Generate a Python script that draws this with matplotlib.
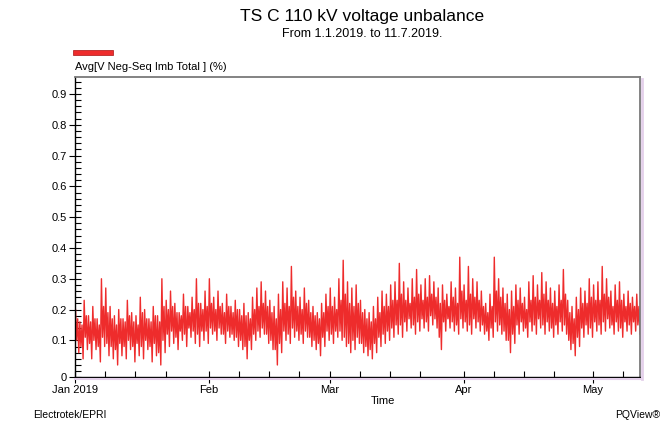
import numpy as np
import matplotlib
matplotlib.use('Agg')
import matplotlib.pyplot as plt
import matplotlib.dates as mdates
from matplotlib.ticker import FixedLocator, MultipleLocator
from matplotlib.patches import Rectangle
from matplotlib.lines import Line2D

title = 'TS C 110 kV voltage unbalance'
subtitle = 'From 1.1.2019. to 11.7.2019.'
series_label = 'Avg[V Neg-Seq Imb Total ] (%)'
x_label = 'Time'
month_labels = ['Jan 2019', 'Feb', 'Mar', 'Apr', 'May']
month_starts = ['2019-01-01', '2019-02-01', '2019-03-01', '2019-04-01', '2019-05-01']
y_tick_values = [0.1, 0.2, 0.3, 0.4, 0.5, 0.6, 0.7, 0.8, 0.9]
start_day = '2019-01-01'
end_time = '2019-05-11T21:00'

# daily spikes (hi / lo) and the dense core (mid_hi / mid_lo) of the unbalance (%),
# read off the picture
jan_hi = [0.20, 0.16, 0.23, 0.18, 0.21, 0.17, 0.30, 0.27, 0.21, 0.18, 0.20, 0.17, 0.23, 0.19, 0.18, 0.24,
          0.20, 0.17, 0.21, 0.18, 0.30, 0.23, 0.26, 0.22, 0.19, 0.25, 0.21, 0.24, 0.30, 0.22, 0.26]
jan_lo = [0.06, 0.04, 0.07, 0.04, 0.07, 0.03, 0.08, 0.05, 0.04, 0.02, 0.05, 0.04, 0.07, 0.03, 0.05, 0.04,
          0.07, 0.03, 0.05, 0.02, 0.06, 0.08, 0.09, 0.07, 0.10, 0.08, 0.11, 0.09, 0.08, 0.10, 0.09]
jan_mid_hi = [0.17, 0.15, 0.18, 0.16, 0.17, 0.15, 0.21, 0.19, 0.17, 0.15, 0.17, 0.16, 0.18, 0.16, 0.15, 0.19,
              0.17, 0.16, 0.18, 0.16, 0.21, 0.20, 0.21, 0.19, 0.18, 0.21, 0.19, 0.20, 0.22, 0.20, 0.21]
jan_mid_lo = [0.10, 0.08, 0.11, 0.09, 0.10, 0.08, 0.11, 0.09, 0.08, 0.07, 0.09, 0.08, 0.10, 0.08, 0.09, 0.08,
              0.10, 0.08, 0.09, 0.06, 0.10, 0.12, 0.13, 0.11, 0.13, 0.12, 0.14, 0.13, 0.12, 0.13, 0.13]

feb_hi = [0.30, 0.24, 0.26, 0.22, 0.25, 0.21, 0.23, 0.20, 0.22, 0.19, 0.24, 0.27, 0.29, 0.26,
          0.23, 0.21, 0.25, 0.29, 0.27, 0.34, 0.26, 0.24, 0.27, 0.23, 0.21, 0.19, 0.22, 0.25]
feb_lo = [0.12, 0.10, 0.12, 0.09, 0.11, 0.10, 0.08, 0.07, 0.04, 0.07, 0.10, 0.11, 0.12, 0.09,
          0.07, 0.02, 0.06, 0.10, 0.09, 0.11, 0.10, 0.09, 0.11, 0.08, 0.07, 0.05, 0.08, 0.10]
feb_mid_hi = [0.22, 0.20, 0.21, 0.19, 0.21, 0.19, 0.20, 0.18, 0.18, 0.17, 0.20, 0.21, 0.22, 0.21,
              0.19, 0.17, 0.20, 0.22, 0.21, 0.24, 0.21, 0.20, 0.22, 0.19, 0.18, 0.17, 0.19, 0.21]
feb_mid_lo = [0.14, 0.13, 0.14, 0.12, 0.13, 0.12, 0.11, 0.10, 0.08, 0.10, 0.12, 0.13, 0.14, 0.12,
              0.10, 0.07, 0.09, 0.13, 0.12, 0.14, 0.13, 0.12, 0.13, 0.11, 0.10, 0.09, 0.11, 0.13]

mar_hi = [0.27, 0.24, 0.30, 0.36, 0.29, 0.27, 0.28, 0.23, 0.20, 0.19, 0.21, 0.24, 0.26, 0.25, 0.28, 0.29,
          0.35, 0.29, 0.27, 0.30, 0.33, 0.28, 0.30, 0.31, 0.29, 0.27, 0.28, 0.25, 0.29, 0.27, 0.37]
mar_lo = [0.09, 0.11, 0.10, 0.08, 0.06, 0.07, 0.09, 0.06, 0.05, 0.04, 0.06, 0.08, 0.09, 0.10, 0.11, 0.12,
          0.11, 0.13, 0.14, 0.12, 0.13, 0.14, 0.13, 0.15, 0.14, 0.07, 0.13, 0.14, 0.13, 0.12, 0.14]
mar_mid_hi = [0.21, 0.20, 0.23, 0.25, 0.22, 0.21, 0.22, 0.19, 0.17, 0.16, 0.17, 0.19, 0.21, 0.21, 0.23, 0.23,
              0.25, 0.23, 0.22, 0.24, 0.25, 0.23, 0.24, 0.25, 0.24, 0.22, 0.23, 0.21, 0.24, 0.22, 0.26]
mar_mid_lo = [0.12, 0.13, 0.13, 0.11, 0.09, 0.10, 0.11, 0.09, 0.08, 0.07, 0.09, 0.11, 0.12, 0.13, 0.14, 0.15,
              0.15, 0.16, 0.17, 0.15, 0.16, 0.17, 0.16, 0.18, 0.17, 0.11, 0.16, 0.17, 0.16, 0.15, 0.17]

apr_hi = [0.28, 0.34, 0.30, 0.29, 0.26, 0.22, 0.25, 0.37, 0.30, 0.27, 0.25, 0.26, 0.28, 0.27, 0.24,
          0.29, 0.31, 0.28, 0.32, 0.29, 0.27, 0.26, 0.28, 0.33, 0.23, 0.21, 0.24, 0.27, 0.26, 0.30]
apr_lo = [0.13, 0.12, 0.14, 0.13, 0.12, 0.10, 0.11, 0.13, 0.12, 0.10, 0.06, 0.09, 0.12, 0.13, 0.11,
          0.13, 0.12, 0.14, 0.12, 0.13, 0.11, 0.12, 0.13, 0.12, 0.07, 0.05, 0.08, 0.11, 0.12, 0.11]
apr_mid_hi = [0.23, 0.25, 0.24, 0.23, 0.21, 0.19, 0.21, 0.26, 0.24, 0.22, 0.20, 0.21, 0.23, 0.22, 0.20,
              0.23, 0.24, 0.23, 0.25, 0.23, 0.22, 0.21, 0.23, 0.25, 0.19, 0.17, 0.20, 0.22, 0.22, 0.24]
apr_mid_lo = [0.16, 0.15, 0.17, 0.16, 0.15, 0.13, 0.14, 0.16, 0.15, 0.13, 0.10, 0.12, 0.15, 0.16, 0.14,
              0.16, 0.15, 0.17, 0.15, 0.16, 0.14, 0.15, 0.16, 0.15, 0.10, 0.09, 0.11, 0.14, 0.15, 0.14]

may_hi = [0.28, 0.29, 0.34, 0.30, 0.26, 0.28, 0.29, 0.25, 0.26, 0.24, 0.25]
may_lo = [0.13, 0.12, 0.13, 0.14, 0.12, 0.13, 0.11, 0.13, 0.12, 0.13, 0.12]
may_mid_hi = [0.23, 0.23, 0.25, 0.24, 0.21, 0.23, 0.23, 0.21, 0.22, 0.21, 0.21]
may_mid_lo = [0.16, 0.15, 0.16, 0.17, 0.15, 0.16, 0.14, 0.16, 0.15, 0.16, 0.15]

hi = np.array(jan_hi + feb_hi + mar_hi + apr_hi + may_hi)
lo = np.array(jan_lo + feb_lo + mar_lo + apr_lo + may_lo)
mid_hi = np.array(jan_mid_hi + feb_mid_hi + mar_mid_hi + apr_mid_hi + may_mid_hi)
mid_lo = np.array(jan_mid_lo + feb_mid_lo + mar_mid_lo + apr_mid_lo + may_mid_lo)

# four readings a day: spike up, core low, core high, spike down
values = np.column_stack([hi, mid_lo, mid_hi, lo]).ravel()
times = np.datetime64(start_day + 'T03:00') + np.arange(len(values)) * np.timedelta64(6, 'h')

plt.rcParams['font.family'] = ['Liberation Sans', 'DejaVu Sans']

fig = plt.figure(figsize=(6.61, 4.26), dpi=100)
ax = fig.add_axes([75 / 661, 49 / 426, 565 / 661, 300 / 426])

line_color = '#ee2c2c'
ax.plot(times, values, color=line_color, linewidth=1.0)

ymin = -0.019
ax.set_ylim(ymin, 0.955)
ax.set_xlim(np.datetime64(start_day), np.datetime64(end_time))

# y axis: bottom labelled 0, majors every 0.1, minors every 0.02
ax.yaxis.set_major_locator(FixedLocator([ymin] + y_tick_values))
ax.set_yticklabels(['0'] + ['%.1f' % v for v in y_tick_values])
ax.yaxis.set_minor_locator(MultipleLocator(0.02))

# x axis: months major, 8th/15th/22nd minor
ax.xaxis.set_major_locator(FixedLocator(mdates.date2num(np.array(month_starts, dtype='datetime64[D]'))))
ax.set_xticklabels(month_labels)
ax.xaxis.set_minor_locator(mdates.DayLocator(bymonthday=[8, 15, 22]))

ax.tick_params(which='major', direction='inout', length=8, width=0.8, labelsize=8, pad=2)
ax.tick_params(which='minor', direction='in', length=4, width=0.8)

for side in ['left', 'bottom']:
    ax.spines[side].set_color('black')
    ax.spines[side].set_linewidth(1.0)
for side in ['top', 'right']:
    ax.spines[side].set_color('#7a7a7a')
    ax.spines[side].set_linewidth(1.3)

# soft shadow under and right of the frame
fig.add_artist(Line2D([75 / 661, 640 / 661], [(426 - 379) / 426] * 2, color='#e4d0ea', linewidth=1.5))
fig.add_artist(Line2D([642 / 661] * 2, [(426 - 379) / 426, (426 - 79) / 426], color='#e4d0ea', linewidth=2))

fig.text(362 / 661, 1 - 17 / 426, title, ha='center', va='center', fontsize=12.5)
fig.text(362 / 661, 1 - 34 / 426, subtitle, ha='center', va='center', fontsize=9)
fig.add_artist(Rectangle((73 / 661, 1 - 55 / 426), 40 / 661, 5 / 426, facecolor=line_color,
                         edgecolor='#aa1111', linewidth=0.5, transform=fig.transFigure))
fig.text(75 / 661, 1 - 67 / 426, series_label, ha='left', va='center', fontsize=8)
fig.text(383 / 661, 1 - 401 / 426, x_label, ha='center', va='center', fontsize=8)
fig.text(33 / 661, 1 - 415 / 426, 'Electrotek/EPRI', ha='left', va='center', fontsize=7.5)
fig.text(660 / 661, 1 - 415 / 426, 'PQView®', ha='right', va='center', fontsize=7.5)

fig.savefig('out.png', dpi=100)
